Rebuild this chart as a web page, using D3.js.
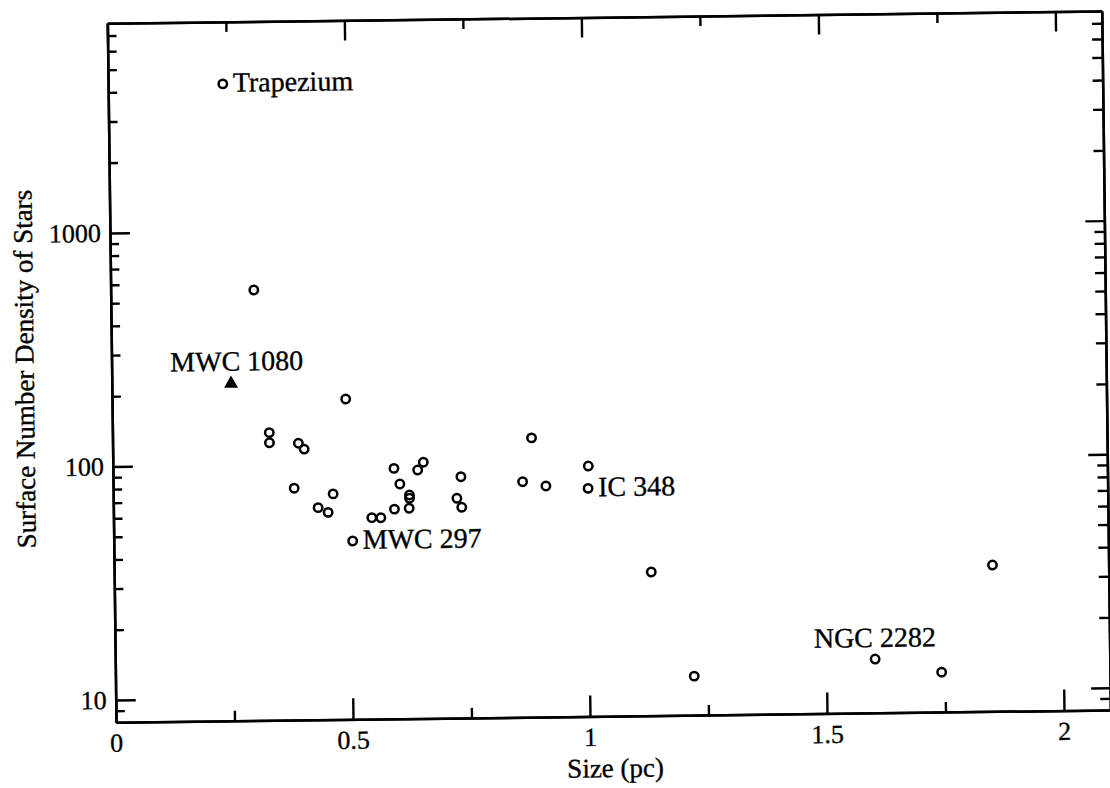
<!DOCTYPE html>
<html>
<head>
<meta charset="utf-8">
<script src="https://cdn.jsdelivr.net/npm/d3@7"></script>
<style>
  body { margin: 0; background: #fff; }
  text { font-family: "Liberation Serif", "Times New Roman", serif; fill: #000; stroke: #000; stroke-width: 0.35px; }
</style>
</head>
<body>
<svg id="chart" width="1110" height="788"></svg>
<script>
// cluster sizes (pc) and surface densities
const sizes = [0.242, 0.302, 0.493, 0.331, 0.331, 0.392, 0.404, 0.382, 0.432, 0.453,
  0.464, 0.545, 0.564, 0.504, 0.593, 0.605, 0.625, 0.625, 0.624, 0.593,
  0.643, 0.655, 0.734, 0.725, 0.735, 0.884, 0.864, 0.913, 1.003, 1.002,
  1.133, 1.221, 1.853, 1.603, 1.743]
const densities = [4290, 560, 189, 137, 124, 123, 116, 79, 65, 62,
  74.3, 58.5, 58.4, 46.6, 94.9, 81.3, 72.8, 70.5, 63.9, 63.5,
  93.1, 100.4, 86.7, 70.1, 64.1, 126, 81.9, 78.3, 94.8, 76.1,
  33.1, 11.8, 34.0, 13.65, 11.9]
const names = ["Trapezium", "", "", "", "", "", "", "", "", "",
  "", "", "", "MWC 297", "", "", "", "", "", "",
  "", "", "", "", "", "", "", "", "", "IC 348",
  "", "", "", "NGC 2282", ""]

// the triangle point
const triSize = [0.2515]
const triDensity = [223]
const triName = ["MWC 1080"]

const xMajor = [0, 0.5, 1, 1.5, 2]
const xMinor = [0.25, 0.75, 1.25, 1.75]
const yMajor = [10, 100, 1000]
const yMinor = [9, 20, 30, 40, 50, 60, 70, 80, 90, 200, 300, 400, 500, 600, 700, 800, 900,
  2000, 3000, 4000, 5000, 6000, 7000]

const svg = d3.select("#chart")
const mLeft = 116, mRight = 1110.5, mTop = 23.3, mBottom = 722.3

const x = d3.scaleLinear().domain([0, 2.098]).range([mLeft, mRight])
const y = d3.scaleLog().domain([8.03, 7900]).range([mBottom, mTop])

// the scanned page is turned a little, so the whole plot is too
const g = svg.append("g").attr("transform", `rotate(-0.71,${mLeft},${mBottom})`)

function styleAxis(sel) {
  sel.selectAll("path").attr("stroke", "#000").attr("stroke-width", 2.5)
  sel.selectAll("line").attr("stroke", "#000").attr("stroke-width", 2.4)
  sel.selectAll("text").style("font-size", "26px").attr("fill", "#000")
}

// bottom
g.append("g").attr("transform", `translate(0,${mBottom})`)
  .call(d3.axisBottom(x).tickValues(xMajor).tickSizeInner(-21).tickSizeOuter(0).tickPadding(11)
    .tickFormat(d => d))
  .call(styleAxis)
g.append("g").attr("transform", `translate(0,${mBottom})`)
  .call(d3.axisBottom(x).tickValues(xMinor).tickSizeInner(-10).tickSizeOuter(0).tickFormat(""))
  .call(styleAxis)
// top
g.append("g").attr("transform", `translate(0,${mTop})`)
  .call(d3.axisTop(x).tickValues(xMajor).tickSizeInner(-20).tickSizeOuter(0).tickFormat(""))
  .call(styleAxis)
g.append("g").attr("transform", `translate(0,${mTop})`)
  .call(d3.axisTop(x).tickValues(xMinor).tickSizeInner(-10).tickSizeOuter(0).tickFormat(""))
  .call(styleAxis)
// left
g.append("g").attr("transform", `translate(${mLeft},0)`)
  .call(d3.axisLeft(y).tickValues(yMajor).tickSizeInner(-20).tickSizeOuter(0).tickPadding(9)
    .tickFormat(d3.format("d")))
  .call(styleAxis)
g.append("g").attr("transform", `translate(${mLeft},0)`)
  .call(d3.axisLeft(y).tickValues(yMinor).tickSizeInner(-9).tickSizeOuter(0).tickFormat(""))
  .call(styleAxis)
// right
g.append("g").attr("transform", `translate(${mRight},0)`)
  .call(d3.axisRight(y).tickValues(yMajor).tickSizeInner(-19).tickSizeOuter(0).tickFormat(""))
  .call(styleAxis)
g.append("g").attr("transform", `translate(${mRight},0)`)
  .call(d3.axisRight(y).tickValues(yMinor).tickSizeInner(-10).tickSizeOuter(0).tickFormat(""))
  .call(styleAxis)

// axis titles
g.append("text")
  .attr("x", mLeft + 499).attr("y", mBottom + 61)
  .attr("text-anchor", "middle").style("font-size", "27px")
  .text("Size (pc)")
g.append("text")
  .attr("transform", `translate(38,368) rotate(-90)`)
  .attr("text-anchor", "middle").style("font-size", "27px")
  .text("Surface Number Density of Stars")

// points
const pts = sizes.map((s, i) => ({s: s, d: densities[i], name: names[i]}))
g.append("g").selectAll("circle")
  .data(pts).enter().append("circle")
  .attr("cx", d => x(d.s))
  .attr("cy", d => y(d.d))
  .attr("r", 4.2)
  .attr("fill", "none")
  .attr("stroke", "#000")
  .attr("stroke-width", 2.5)

// point labels
g.append("g").selectAll("text")
  .data(pts.filter(d => d.name)).enter().append("text")
  .attr("x", d => x(d.s) + 10)
  .attr("y", d => y(d.d) + 8)
  .style("font-size", "28px")
  .text(d => d.name)
  .filter(d => d.name === "NGC 2282")
  .attr("text-anchor", "middle")
  .attr("x", d => x(d.s))
  .attr("y", d => y(d.d) - 12)

// triangle
const tri = d3.symbol().type(d3.symbolTriangle).size(85)
const triPts = triSize.map((s, i) => ({s: s, d: triDensity[i], name: triName[i]}))
g.append("g").selectAll("path")
  .data(triPts).enter().append("path")
  .attr("d", tri)
  .attr("transform", d => `translate(${x(d.s)},${y(d.d)})`)
  .attr("fill", "#000")
g.append("g").selectAll("text")
  .data(triPts).enter().append("text")
  .attr("x", d => x(d.s) + 6).attr("y", d => y(d.d) - 13)
  .attr("text-anchor", "middle")
  .style("font-size", "28px")
  .text(d => d.name)
</script>
</body>
</html>
